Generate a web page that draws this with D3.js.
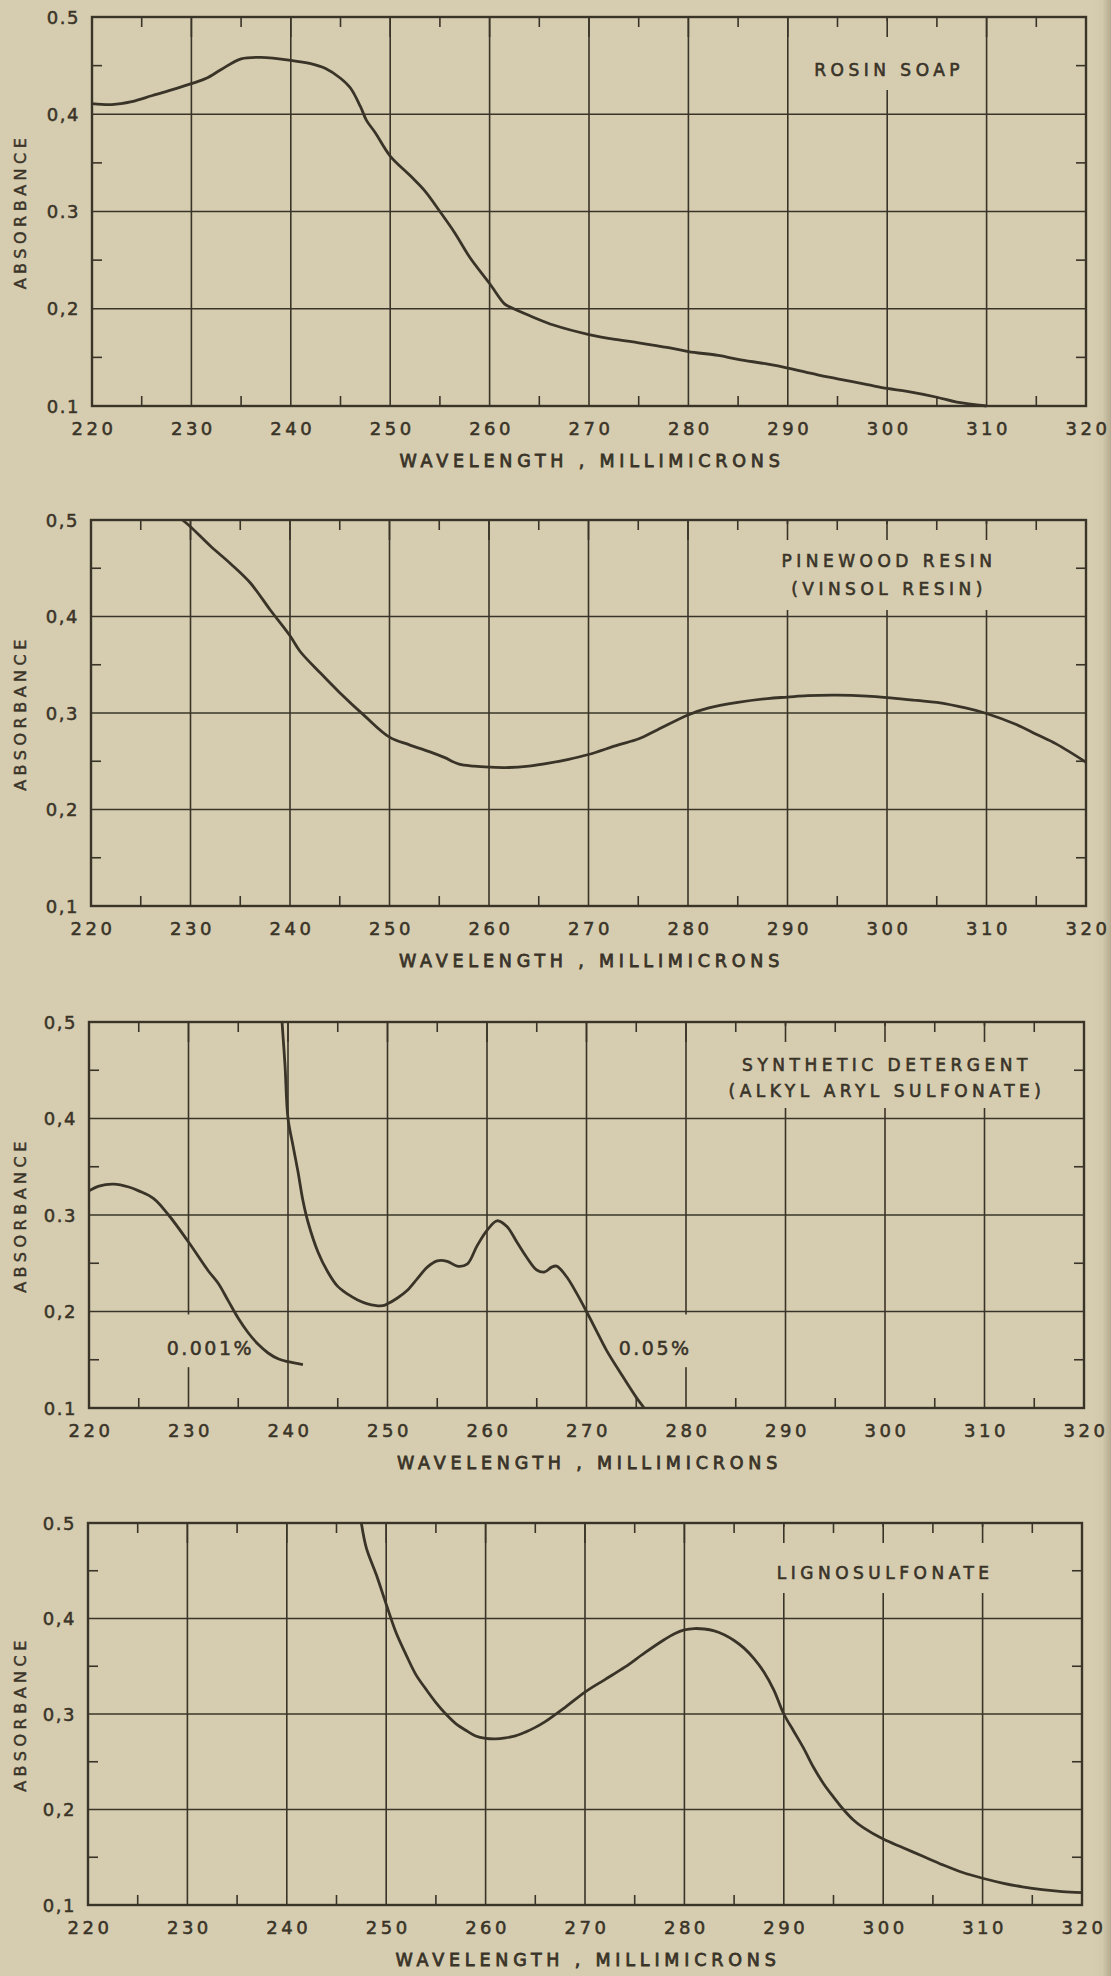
<!DOCTYPE html>
<html>
<head>
<meta charset="utf-8">
<script src="https://cdn.jsdelivr.net/npm/d3@7"></script>
<style>
  html, body { margin: 0; padding: 0; background: #d6cdb1; }
  svg { display: block; }
  text { font-family: "DejaVu Sans", sans-serif; fill: #3a3428; }
</style>
</head>
<body>
<div id="chart"></div>
<script>
// axis values
const wavelengthTicks = [220, 230, 240, 250, 260, 270, 280, 290, 300, 310, 320]
const wavelengthMinor = [225, 235, 245, 255, 265, 275, 285, 295, 305, 315]
const absorbanceTicks = [0.1, 0.2, 0.3, 0.4, 0.5]
const absorbanceMinor = [0.15, 0.25, 0.35, 0.45]

// tick labels as lettered on each panel (bottom to top)
const absorbanceLabels = [
  ["0.1", "0,2", "0.3", "0,4", "0.5"],
  ["0,1", "0,2", "0,3", "0,4", "0,5"],
  ["0.1", "0,2", "0.3", "0,4", "0,5"],
  ["0,1", "0,2", "0,3", "0,4", "0.5"]
]

const panelTitles = [
  ["ROSIN SOAP"],
  ["PINEWOOD RESIN", "(VINSOL RESIN)"],
  ["SYNTHETIC DETERGENT", "(ALKYL ARYL SULFONATE)"],
  ["LIGNOSULFONATE"]
]

// curves: [wavelength nm, absorbance]
const rosinSoap = [[220,0.411],[222,0.410],[224,0.413],[226,0.419],[228,0.425],[230,0.4315],[231.5,0.437],
  [233,0.446],[235,0.457],[237,0.4585],[240,0.4555],[242,0.452],[243.5,0.447],[245,0.437],[246,0.427],
  [247,0.408],[247.6,0.394],[248.5,0.381],[250,0.357],[252,0.337],[253.5,0.321],[255,0.300],[256.5,0.278],
  [258,0.253],[260,0.226],[261.5,0.205],[262,0.202],[264,0.193],[266.5,0.183],[270,0.1735],[273,0.168],
  [275,0.165],[278,0.160],[280,0.156],[283,0.152],[285,0.148],[288,0.143],[290,0.139],[293,0.132],
  [295,0.128],[298,0.122],[300,0.118],[302,0.115],[305,0.109],[307,0.104],[310,0.100]]

const pinewoodResin = [[229.2,0.5],[230,0.493],[232,0.473],[234,0.455],[236,0.435],[238,0.407],[240,0.380],
  [241,0.364],[243,0.342],[245,0.321],[247.5,0.297],[250,0.275],[252,0.267],[254,0.260],[255.5,0.254],
  [257,0.247],[258.5,0.245],[260,0.244],[262,0.2435],[264,0.245],[266,0.248],[268,0.252],[270,0.257],
  [273,0.267],[275,0.273],[277,0.283],[280,0.298],[282,0.305],[285,0.311],[288,0.315],[290,0.3165],
  [292,0.318],[295,0.3185],[298,0.3175],[300,0.316],[303,0.313],[305,0.311],[308,0.305],[310,0.2995],
  [313,0.288],[315,0.278],[317,0.268],[320,0.249]]

const detergentLow = [[220,0.325],[221,0.330],[222.5,0.332],[224,0.329],[225,0.325],[226.5,0.317],
  [228,0.300],[230,0.272],[232,0.242],[233,0.229],[234,0.211],[235,0.193],[236,0.178],[237,0.166],
  [238,0.157],[239,0.151],[240,0.148],[241.5,0.145]]

const detergentHigh = [[239.4,0.5],[239.7,0.455],[240,0.40],[240.5,0.372],[241,0.345],[241.5,0.315],
  [242,0.293],[243,0.262],[244,0.241],[245,0.226],[246,0.218],[247,0.212],[248,0.208],[249.5,0.206],
  [250,0.208],[251,0.214],[252,0.222],[253,0.234],[254,0.246],[255,0.2525],[256,0.252],[257,0.247],
  [258,0.249],[259,0.268],[260,0.284],[261,0.294],[262,0.288],[263,0.272],[264,0.256],[265,0.243],
  [265.8,0.241],[266.5,0.246],[267,0.247],[268,0.236],[269,0.219],[270,0.200],[271,0.180],[272,0.160],
  [273.5,0.135],[275,0.111],[275.8,0.100]]

const lignosulfonate = [[247.5,0.5],[248,0.474],[249,0.446],[250,0.415],[251,0.385],[252,0.362],
  [253,0.341],[254,0.326],[255,0.312],[256,0.300],[257,0.290],[258,0.283],[259,0.277],[260,0.2745],
  [261,0.274],[262,0.275],[263,0.277],[264,0.281],[265,0.286],[266,0.292],[268,0.307],[270,0.323],
  [272,0.336],[274,0.349],[276,0.364],[278,0.378],[279,0.384],[280,0.388],[281,0.3895],[282,0.389],
  [283,0.387],[284,0.383],[285,0.377],[286,0.369],[287,0.358],[288,0.344],[289,0.325],[290,0.300],
  [291,0.282],[292,0.264],[293,0.244],[294,0.227],[295,0.213],[296,0.200],[297,0.189],[298,0.181],
  [300,0.169],[302,0.160],[304,0.151],[306,0.142],[308,0.134],[310,0.128],[312,0.123],[314,0.119],
  [316,0.116],[318,0.114],[320,0.113]]

const panelCurves = [[rosinSoap], [pinewoodResin], [detergentLow, detergentHigh], [lignosulfonate]]

// concentration notes on the detergent panel
const concLabels = [
  {text: "0.001%", nm: 232.2, abs: 0.162},
  {text: "0.05%", nm: 276.9, abs: 0.162}
]

// page layout
const width = 1111
const height = 1976
const paper = "#d6cdb1"
const ink = "#3a3428"

const panelTop = [17, 520, 1022, 1523]
const panelBottom = [406, 906, 1408, 1905]
const panelLeft = [92, 91, 89, 88]
const panelRight = [1086, 1086, 1084, 1082]
const titleY = [[53], [41, 69], [43, 69], [50]]
const maskBottom = [73, 90, 86, 70]

const svg = d3.select("#chart")
  .append("svg")
  .attr("width", width)
  .attr("height", height)

svg.append("rect")
  .attr("width", width)
  .attr("height", height)
  .style("fill", paper)

// darker page edge on the right
const grad = svg.append("defs").append("linearGradient")
  .attr("id", "edge")
grad.append("stop").attr("offset", "0%").attr("stop-color", paper)
grad.append("stop").attr("offset", "55%").attr("stop-color", "#d2c9ad")
grad.append("stop").attr("offset", "100%").attr("stop-color", "#b3aa8f")
svg.append("rect")
  .attr("x", 1092).attr("y", 0)
  .attr("width", 19).attr("height", height)
  .style("fill", "url(#edge)")

function drawPanel(i) {
  const x = d3.scaleLinear().domain([220, 320]).range([panelLeft[i], panelRight[i]])
  const y = d3.scaleLinear().domain([0.1, 0.5]).range([panelBottom[i], panelTop[i]])
  const g = svg.append("g")

  // grid
  g.selectAll(".vgrid")
    .data(wavelengthTicks.slice(1, -1))
    .enter().append("line")
    .attr("x1", d => x(d)).attr("x2", d => x(d))
    .attr("y1", y(0.5)).attr("y2", y(0.1))
    .style("stroke", ink).style("stroke-width", 1.6)

  g.selectAll(".hgrid")
    .data(absorbanceTicks.slice(1, -1))
    .enter().append("line")
    .attr("x1", x(220)).attr("x2", x(320))
    .attr("y1", d => y(d)).attr("y2", d => y(d))
    .style("stroke", ink).style("stroke-width", 1.6)

  // title with paper behind it, breaking the grid lines
  const titleG = g.append("g")
  titleG.selectAll("text")
    .data(panelTitles[i])
    .enter().append("text")
    .attr("x", x(300) + 2)
    .attr("y", (d, k) => panelTop[i] + titleY[i][k])
    .attr("text-anchor", "middle")
    .attr("dominant-baseline", "central")
    .style("font-size", "17px")
    .style("letter-spacing", "4.5px")
    .style("stroke", ink).style("stroke-width", 0.6)
    .text(d => d)
  const bb = titleG.node().getBBox()
  titleG.insert("rect", "text")
    .attr("x", bb.x - 8).attr("width", bb.width + 12)
    .attr("y", panelTop[i] + 4)
    .attr("height", maskBottom[i] - 4)
    .style("fill", paper)

  // frame
  g.append("rect")
    .attr("x", x(220)).attr("y", y(0.5))
    .attr("width", x(320) - x(220)).attr("height", y(0.1) - y(0.5))
    .style("fill", "none").style("stroke", ink).style("stroke-width", 2.4)

  // ticks inside the frame
  const tl = 10
  wavelengthMinor.forEach(d => {
    g.append("line").attr("x1", x(d)).attr("x2", x(d))
      .attr("y1", y(0.5)).attr("y2", y(0.5) + tl)
      .style("stroke", ink).style("stroke-width", 1.6)
    g.append("line").attr("x1", x(d)).attr("x2", x(d))
      .attr("y1", y(0.1)).attr("y2", y(0.1) - tl)
      .style("stroke", ink).style("stroke-width", 1.6)
  })
  wavelengthTicks.slice(1, -1).forEach(d => {
    g.append("line").attr("x1", x(d)).attr("x2", x(d))
      .attr("y1", y(0.5)).attr("y2", y(0.5) + 20)
      .style("stroke", ink).style("stroke-width", 1.6)
  })
  absorbanceMinor.forEach(d => {
    g.append("line").attr("x1", x(220)).attr("x2", x(220) + tl)
      .attr("y1", y(d)).attr("y2", y(d))
      .style("stroke", ink).style("stroke-width", 1.6)
    g.append("line").attr("x1", x(320)).attr("x2", x(320) - tl)
      .attr("y1", y(d)).attr("y2", y(d))
      .style("stroke", ink).style("stroke-width", 1.6)
  })

  // concentration labels (detergent panel)
  if (i === 2) {
    concLabels.forEach(c => {
      const lg = g.append("g")
      lg.append("text")
        .attr("x", x(c.nm)).attr("y", y(c.abs))
        .attr("text-anchor", "middle")
        .attr("dominant-baseline", "central")
        .style("font-size", "19px")
        .style("letter-spacing", "2.5px")
        .style("stroke", ink).style("stroke-width", 0.5)
        .text(c.text)
      const b = lg.node().getBBox()
      lg.insert("rect", "text")
        .attr("x", b.x - 3).attr("width", b.width + 6)
        .attr("y", y(0.2) + 3).attr("height", b.y + b.height + 8 - y(0.2) - 3)
        .style("fill", paper)
    })
  }

  // curves
  const line = d3.line()
    .x(d => x(d[0]))
    .y(d => y(d[1]))
    .curve(d3.curveCatmullRom.alpha(0.5))

  g.selectAll(".curve")
    .data(panelCurves[i])
    .enter().append("path")
    .attr("d", line)
    .style("fill", "none")
    .style("stroke", ink)
    .style("stroke-width", 2.8)
    .style("stroke-linejoin", "round")

  // axis labels
  g.selectAll(".xlab")
    .data(wavelengthTicks)
    .enter().append("text")
    .attr("x", d => x(d) + 2)
    .attr("y", y(0.1) + 22)
    .attr("text-anchor", "middle")
    .attr("dominant-baseline", "central")
    .style("font-size", "18px")
    .style("letter-spacing", "3.5px")
    .style("stroke", ink).style("stroke-width", 0.55)
    .text(d => d)

  g.selectAll(".ylab")
    .data(absorbanceTicks)
    .enter().append("text")
    .attr("x", x(220) - 12)
    .attr("y", d => y(d))
    .attr("text-anchor", "end")
    .attr("dominant-baseline", "central")
    .style("font-size", "18px")
    .style("letter-spacing", "1.5px")
    .style("stroke", ink).style("stroke-width", 0.5)
    .text((d, k) => absorbanceLabels[i][k])

  g.append("text")
    .attr("x", (x(220) + x(320)) / 2 + 3)
    .attr("y", y(0.1) + 55)
    .attr("text-anchor", "middle")
    .attr("dominant-baseline", "central")
    .style("font-size", "17.5px")
    .style("letter-spacing", "4.8px")
    .style("stroke", ink).style("stroke-width", 0.8)
    .text("WAVELENGTH , MILLIMICRONS")

  g.append("text")
    .attr("transform", `translate(20,${(y(0.1) + y(0.5)) / 2}) rotate(-90)`)
    .attr("text-anchor", "middle")
    .attr("dominant-baseline", "central")
    .style("font-size", "16px")
    .style("letter-spacing", "4.5px")
    .style("stroke", ink).style("stroke-width", 0.45)
    .text("ABSORBANCE")
}

panelTitles.forEach((t, i) => drawPanel(i))
</script>
</body>
</html>
